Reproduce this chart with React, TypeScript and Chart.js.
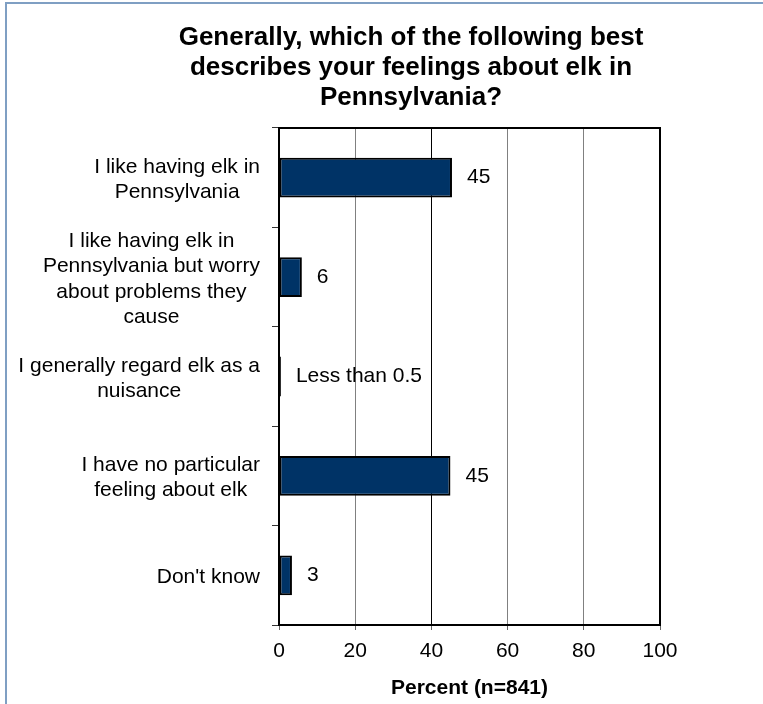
import React, { useEffect, useRef } from "react";
import { Chart, registerables } from "chart.js";

Chart.register(...registerables);

const categories: string[][] = [
  ["I like having elk in", "Pennsylvania"],
  ["I like having elk in", "Pennsylvania but worry", "about problems they", "cause"],
  ["I generally regard elk as a", "nuisance"],
  ["I have no particular", "feeling about elk"],
  ["Don't know"],
];
const percentValues: number[] = [45.4, 6.0, 0.5, 45.0, 3.4];
const valueLabels: string[] = ["45", "6", "Less than 0.5", "45", "3"];
const xTickMin = 0;
const xTickMax = 100;
const xTickStep = 20;
const titleLines: string[] = [
  "Generally, which of the following best",
  "describes your feelings about elk in",
  "Pennsylvania?",
];
const xAxisTitle = "Percent (n=841)";

const FONT = "'Liberation Sans', Arial, Helvetica, sans-serif";

const customPlugin = {
  id: "customDraw",
  afterDraw(chart: any) {
    const ctx = chart.ctx as CanvasRenderingContext2D;
    const { left, right, top, bottom } = chart.chartArea;
    ctx.save();
    // plot frame
    ctx.strokeStyle = "#000";
    ctx.lineWidth = 2;
    ctx.strokeRect(left, top, right - left, bottom - top);

    // title
    ctx.fillStyle = "#000";
    ctx.font = `bold 26px ${FONT}`;
    ctx.textAlign = "center";
    ctx.textBaseline = "middle";
    titleLines.forEach((t, i) => ctx.fillText(t, 411, 38 + i * 30));

    // category labels: block right-aligned, lines centered within block
    const yScale = chart.scales.y;
    ctx.font = `21px ${FONT}`;
    categories.forEach((lines, i) => {
      const yc = yScale.getPixelForTick(i) + 2;
      const maxW = Math.max(...lines.map((l) => ctx.measureText(l).width));
      const cx = left - 19 - maxW / 2;
      const startY = yc - ((lines.length - 1) * 25.5) / 2;
      lines.forEach((l, j) => ctx.fillText(l, cx, startY + j * 25.5));
    });

    // value labels
    const meta = chart.getDatasetMeta(0);
    ctx.textAlign = "left";
    meta.data.forEach((bar: any, i: number) => {
      ctx.fillText(valueLabels[i], bar.x + 15, bar.y);
    });
    ctx.restore();
  },
};

export default function App() {
  const canvasRef = useRef<HTMLCanvasElement | null>(null);

  useEffect(() => {
    if (!canvasRef.current) return;
    const chart = new Chart(canvasRef.current, {
      type: "bar",
      data: {
        labels: categories.map((c) => c.join(" ")),
        datasets: [
          {
            data: percentValues,
            backgroundColor: "#003366",
            borderColor: "#000000",
            borderWidth: 2,
            borderSkipped: false,
            categoryPercentage: 1,
            barPercentage: 0.4,
          },
        ],
      },
      options: {
        indexAxis: "y",
        responsive: false,
        animation: false,
        devicePixelRatio: 1,
        layout: { padding: { top: 128, right: 103, bottom: 0, left: 0 } },
        plugins: {
          legend: { display: false },
          title: { display: false },
          tooltip: { enabled: false },
        },
        scales: {
          x: {
            min: xTickMin,
            max: xTickMax,
            ticks: {
              stepSize: xTickStep,
              color: "#000",
              font: { family: FONT, size: 21 },
              padding: 9,
            },
            grid: {
              color: (c: any) => (c.tick && c.tick.value === 40 ? "#000" : "#808080"),
              tickColor: "#666",
              tickLength: 5,
              lineWidth: 1,
            },
            border: { display: false },
            title: {
              display: true,
              text: xAxisTitle,
              color: "#000",
              font: { family: FONT, size: 21, weight: "bold" },
              padding: { top: 0, bottom: 3 },
            },
            afterFit: (s: any) => {
              s.height = 79;
            },
          },
          y: {
            ticks: { display: false },
            grid: {
              drawOnChartArea: false,
              tickLength: 7,
              tickColor: "#333",
              offset: true,
            },
            border: { display: false },
            afterFit: (s: any) => {
              s.width = 279;
            },
          },
        },
      },
      plugins: [customPlugin],
    } as any);
    return () => chart.destroy();
  }, []);

  return (
    <div
      style={{
        position: "fixed",
        left: 0,
        top: 0,
        width: 763,
        height: 704,
        overflow: "hidden",
        background: "#fff",
      }}
    >
      <div
        style={{
          position: "absolute",
          left: 5,
          top: 2,
          width: 900,
          height: 900,
          border: "2px solid #7f9fc3",
          boxSizing: "border-box",
        }}
      />
      <canvas
        ref={canvasRef}
        width={763}
        height={704}
        style={{ position: "absolute", left: 0, top: 0, width: 763, height: 704 }}
      />
    </div>
  );
}
